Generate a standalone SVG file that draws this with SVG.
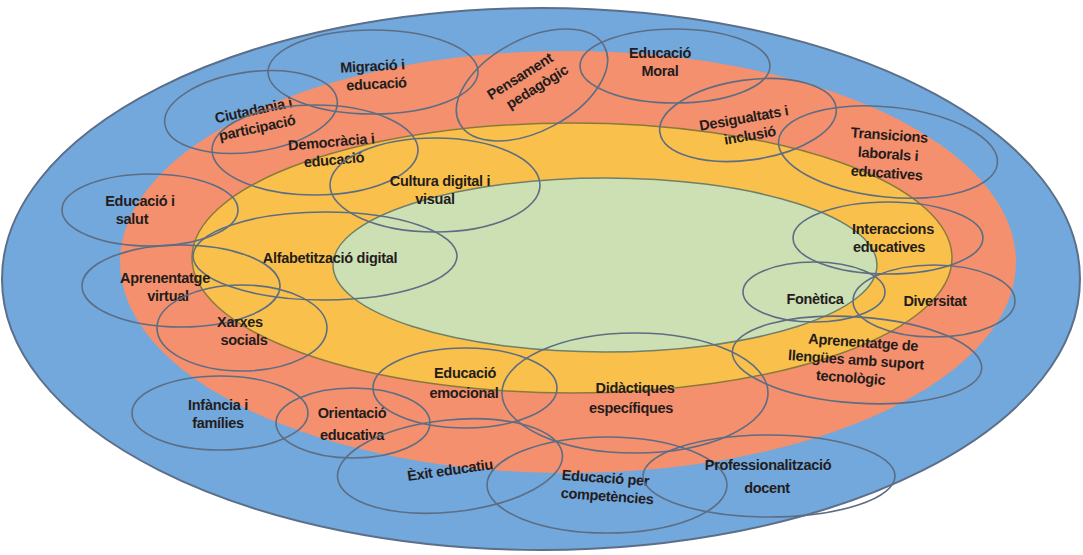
<svg xmlns="http://www.w3.org/2000/svg" width="1083" height="555" viewBox="0 0 1083 555">
<style>
.t{font-family:"Liberation Sans",Arial,sans-serif;font-weight:bold;font-size:14.5px;fill:#241c1c;text-anchor:middle;letter-spacing:-0.3px}
.e{fill:none;stroke:#5d6d84;stroke-width:1.6}
</style>
<rect width="1083" height="555" fill="#ffffff"/>
<g id="rings">
<ellipse cx="541" cy="279" rx="539" ry="271" fill="#72a8dc" stroke="#5b6f8a" stroke-width="2"/>
<ellipse cx="568" cy="262" rx="448" ry="211" fill="#f4906d"/>
<ellipse cx="572" cy="258" rx="380" ry="135" fill="#f9c14b" stroke="#8a7a3a" stroke-width="1.5"/>
<ellipse cx="605" cy="265" rx="272" ry="87" fill="#cde0b3" stroke="#6f7f6a" stroke-width="1.5"/>
</g>
<g id="connectors"></g>
<g id="ciutadania"><ellipse class="e" cx="251" cy="112" rx="87" ry="40" transform="rotate(-8 251 112)"/><text class="t" transform="rotate(-12 255 118)"><tspan x="255" y="115">Ciutadania i</tspan><tspan x="255" y="133">participació</tspan></text></g>
<g id="migracio"><ellipse class="e" cx="373" cy="72" rx="105" ry="42"/><text class="t" transform="rotate(-3 373 75)"><tspan x="373" y="71">Migració i</tspan><tspan x="376" y="89">educació</tspan></text></g>
<g id="pensament"><ellipse class="e" cx="532" cy="85" rx="82" ry="46" transform="rotate(-28 532 85)"/><text class="t" transform="rotate(-32 527 80)"><tspan x="523" y="78">Pensament</tspan><tspan x="532" y="96">pedagògic</tspan></text></g>
<g id="moral"><ellipse class="e" cx="675" cy="66" rx="95" ry="37"/><text class="t"><tspan x="660" y="58">Educació</tspan><tspan x="660" y="76">Moral</tspan></text></g>
<g id="desigualtats"><ellipse class="e" cx="748" cy="120" rx="89" ry="40" transform="rotate(-8 748 120)"/><text class="t" transform="rotate(-10 745 125)"><tspan x="745" y="123">Desigualtats i</tspan><tspan x="748" y="141">inclusió</tspan></text></g>
<g id="transicions"><ellipse class="e" cx="888" cy="152" rx="110" ry="45" transform="rotate(6 888 152)"/><text class="t" transform="rotate(4 888 155)"><tspan x="888" y="140">Transicions</tspan><tspan x="888" y="159">laborals i</tspan><tspan x="888" y="178">educatives</tspan></text></g>
<g id="democracia"><ellipse class="e" cx="315" cy="150" rx="103" ry="45"/><text class="t" transform="rotate(-5 330 150)"><tspan x="332" y="147">Democràcia i</tspan><tspan x="333" y="165">educació</tspan></text></g>
<g id="cultura"><ellipse class="e" cx="435" cy="185" rx="105" ry="47"/><text class="t"><tspan x="440" y="186">Cultura digital i</tspan><tspan x="435" y="204">visual</tspan></text></g>
<g id="salut"><ellipse class="e" cx="150" cy="210" rx="88" ry="36"/><text class="t"><tspan x="140" y="206">Educació i</tspan><tspan x="132" y="224">salut</tspan></text></g>
<g id="alfabetitzacio"><ellipse class="e" cx="325" cy="256" rx="132" ry="44"/><text class="t" x="330" y="263">Alfabetització digital</text></g>
<g id="aprenentatge-virtual"><ellipse class="e" cx="181" cy="286" rx="99" ry="41"/><text class="t"><tspan x="165" y="283">Aprenentatge</tspan><tspan x="168" y="301">virtual</tspan></text></g>
<g id="xarxes"><ellipse class="e" cx="242" cy="328" rx="85" ry="43"/><text class="t"><tspan x="240" y="327">Xarxes</tspan><tspan x="244" y="345">socials</tspan></text></g>
<g id="interaccions"><ellipse class="e" cx="888" cy="238" rx="95" ry="36"/><text class="t"><tspan x="893" y="234">Interaccions</tspan><tspan x="889" y="252">educatives</tspan></text></g>
<g id="fonetica"><ellipse class="e" cx="814" cy="292" rx="71" ry="30"/><text class="t" x="815" y="304">Fonètica</text></g>
<g id="diversitat"><ellipse class="e" cx="934" cy="301" rx="81" ry="36"/><text class="t" x="935" y="306">Diversitat</text></g>
<g id="llengues"><ellipse class="e" cx="857" cy="360" rx="125" ry="43" transform="rotate(4 857 360)"/><text class="t" transform="rotate(4 858 360)"><tspan x="862" y="347">Aprenentatge de</tspan><tspan x="856" y="365">llengües amb suport</tspan><tspan x="852" y="383">tecnològic</tspan></text></g>
<g id="infancia"><ellipse class="e" cx="220" cy="413" rx="88" ry="37"/><text class="t"><tspan x="218" y="410">Infància i</tspan><tspan x="218" y="428">famílies</tspan></text></g>
<g id="orientacio"><ellipse class="e" cx="353" cy="423" rx="77" ry="35"/><text class="t"><tspan x="352" y="418">Orientació</tspan><tspan x="352" y="440">educativa</tspan></text></g>
<g id="emocional"><ellipse class="e" cx="465" cy="388" rx="92" ry="40"/><text class="t"><tspan x="465" y="378">Educació</tspan><tspan x="464" y="398">emocional</tspan></text></g>
<g id="didactiques"><ellipse class="e" cx="635" cy="393" rx="133" ry="60"/><text class="t"><tspan x="635" y="393">Didàctiques</tspan><tspan x="631" y="413">específiques</tspan></text></g>
<g id="exit"><ellipse class="e" cx="450" cy="466" rx="113" ry="46" transform="rotate(-6 450 466)"/><text class="t" x="450" y="475" transform="rotate(-8 450 470)">Èxit educatiu</text></g>
<g id="competencies"><ellipse class="e" cx="607" cy="485" rx="120" ry="48"/><text class="t" transform="rotate(4 607 485)"><tspan x="605" y="483">Educació per</tspan><tspan x="608" y="501">competències</tspan></text></g>
<g id="professionalitzacio"><ellipse class="e" cx="769" cy="476" rx="126" ry="41"/><text class="t"><tspan x="768" y="470">Professionalització</tspan><tspan x="767" y="493">docent</tspan></text></g>
</svg>
